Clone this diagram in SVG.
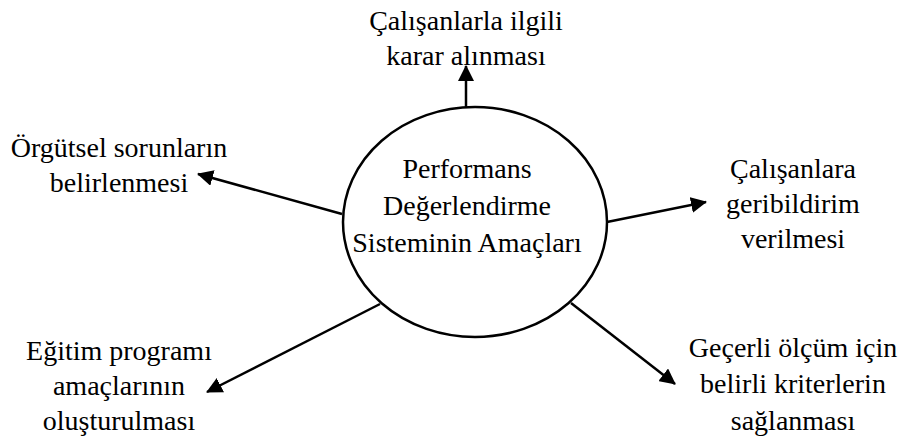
<svg xmlns="http://www.w3.org/2000/svg" width="904" height="444" viewBox="0 0 904 444">
<style>
text{font-family:"Liberation Serif","Times New Roman",serif;font-size:28px;fill:#000;text-anchor:middle}
.c{stroke:#000;stroke-width:2.5;fill:none}
</style>
<defs>
<marker id="ah" markerUnits="userSpaceOnUse" markerWidth="16" markerHeight="16" viewBox="0 0 16 16" refX="15" refY="8" orient="auto">
<path d="M0,0 L16,8 L0,16 Z" fill="#000"/>
</marker>
</defs>
<rect width="904" height="444" fill="#fff"/>
<g id="connectors">
<line class="c" x1="466" y1="108" x2="466" y2="66" marker-end="url(#ah)"/>
<line class="c" x1="342" y1="214" x2="198" y2="174" marker-end="url(#ah)"/>
<line class="c" x1="607" y1="222" x2="706" y2="202" marker-end="url(#ah)"/>
<line class="c" x1="380" y1="304" x2="207" y2="392" marker-end="url(#ah)"/>
<line class="c" x1="571" y1="303" x2="675" y2="384" marker-end="url(#ah)"/>
</g>
<g id="center">
<ellipse class="c" cx="475" cy="222" rx="132" ry="115" fill="#fff"/>
<text x="467" y="178">Performans</text>
<text x="467" y="215">Değerlendirme</text>
<text x="467" y="252">Sisteminin Amaçları</text>
</g>
<g id="top">
<text x="466" y="30">Çalışanlarla ilgili</text>
<text x="466" y="65">karar alınması</text>
</g>
<g id="left">
<text x="119" y="157">Örgütsel sorunların</text>
<text x="119" y="192">belirlenmesi</text>
</g>
<g id="right">
<text x="793" y="178">Çalışanlara</text>
<text x="793" y="213">geribildirim</text>
<text x="793" y="248">verilmesi</text>
</g>
<g id="bottom-left">
<text x="119" y="360">Eğitim programı</text>
<text x="119" y="395">amaçlarının</text>
<text x="119" y="430">oluşturulması</text>
</g>
<g id="bottom-right">
<text x="793" y="357">Geçerli ölçüm için</text>
<text x="793" y="393">belirli kriterlerin</text>
<text x="793" y="430">sağlanması</text>
</g>
</svg>
